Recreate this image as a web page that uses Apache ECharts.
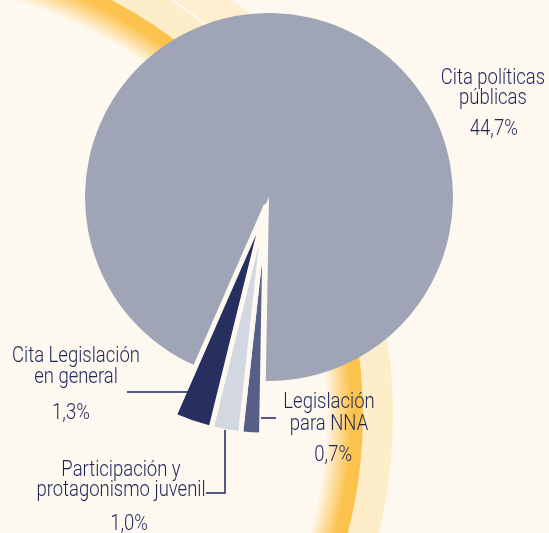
<!DOCTYPE html>
<html>
<head>
<meta charset="utf-8">
<script src="https://cdn.jsdelivr.net/npm/echarts@6/dist/echarts.min.js"></script>
<style>
html, body { margin: 0; padding: 0; background: #fef9f0; }
#chart { width: 549px; height: 533px; }
</style>
</head>
<body>
<div id="chart"></div>
<script>
// categorias (en orden horario desde abajo)
var names = ['Legislación\npara NNA', 'Participación y\nprotagonismo juvenil', 'Cita Legislación\nen general', 'Cita políticas\npúblicas'];
// porcentajes
var values = [0.7, 1.0, 1.3, 44.7];
var colors = ['#575f88', '#d3d7e1', '#262f5f', '#a0a4b7'];

var textColor = '#1d2557';
var bgColor = '#fef9f0';
var fontFamily = 'Roboto, "Liberation Sans", sans-serif';

// posiciones de las etiquetas y lineas guia
var labelPos = [
    { x: 329, y: 391, nh: 22, vh: 40, pad: [0, 0, 0, 10], line: [[261, 418], [268, 418], [276, 418]] },
    { x: 121, y: 460, nh: 20, vh: 49, pad: [0, 0, 0, 19], line: [[225, 430], [225, 493], [206, 493]] },
    { x: 76, y: 346, nh: 21, vh: 50, pad: [0, 12, 0, 0], line: [[188, 392], [160, 392], [127, 392]] },
    { x: 493, y: 68, nh: 20, vh: 43, pad: [0, 0, 0, 2] }
];

function fmt(v) {
    return v.toFixed(1).replace('.', ',') + '%';
}

function buildData(big) {
    let data = [];
    names.forEach(function(item, index) {
        let isBig = index === names.length - 1;
        let show = big ? isBig : !isBig;
        data.push({
            name: item,
            value: values[index],
            itemStyle: show ? {
                color: colors[index],
                borderColor: isBig ? 'transparent' : bgColor,
                borderWidth: isBig ? 0 : 5
            } : { color: 'transparent', borderWidth: 0 }
        });
    });
    return data;
}

// fondo: arcos decorativos
var graphics = [{
    type: 'sector',
    z: 0,
    silent: true,
    shape: { cx: -105, cy: 415, r: 535, r0: 500, startAngle: -1.45, endAngle: -0.45 },
    style: { fill: '#fdefd0' }
}, {
    type: 'ring',
    z: 0,
    silent: true,
    shape: { cx: -105, cy: 415, r: 498, r0: 468 },
    style: { fill: '#fdedc9' }
}, {
    type: 'ring',
    z: 0,
    silent: true,
    shape: { cx: -105, cy: 415, r: 468, r0: 425 },
    style: {
        fill: new echarts.graphic.RadialGradient(-105, 415, 468, [
            { offset: 0.92, color: 'rgba(252,194,78,0)' },
            { offset: 0.975, color: 'rgba(252,194,78,1)' },
            { offset: 1, color: 'rgba(252,194,78,1)' }
        ], true)
    }
}];

// etiquetas (texto condensado)
names.forEach(function(item, index) {
    let p = labelPos[index];
    graphics.push({
        type: 'text',
        z: 10,
        silent: true,
        x: p.x,
        y: p.y,
        scaleX: 0.84,
        style: {
            text: '{n|' + item + '}\n{v|' + fmt(values[index]) + '}',
            fill: textColor,
            fontFamily: fontFamily,
            fontWeight: 300,
            fontSize: 22,
            align: 'center',
            verticalAlign: 'top',
            rich: {
                n: { lineHeight: p.nh, fontFamily: fontFamily, fontWeight: 300, fontSize: 22, fill: textColor },
                v: { lineHeight: p.vh, fontFamily: fontFamily, fontWeight: 300, fontSize: 22, fill: textColor, padding: p.pad }
            }
        }
    });
    if (p.line) {
        graphics.push({
            type: 'polyline',
            z: 10,
            silent: true,
            shape: { points: p.line },
            style: { stroke: textColor, lineWidth: 1.5, fill: null }
        });
    }
});

var myChart = echarts.init(document.getElementById('chart'));
var option = {
    backgroundColor: bgColor,
    animation: false,
    graphic: graphics,
    series: [{
        // sector grande
        type: 'pie',
        silent: true,
        center: [269, 197],
        radius: 184,
        startAngle: 269,
        clockwise: true,
        label: { show: false },
        labelLine: { show: false },
        data: buildData(true)
    }, {
        // sectores pequeños desplazados
        type: 'pie',
        silent: true,
        center: [265.5, 207],
        radius: 228,
        startAngle: 269,
        clockwise: true,
        label: { show: false },
        labelLine: { show: false },
        data: buildData(false)
    }]
};
myChart.setOption(option);
</script>
</body>
</html>
